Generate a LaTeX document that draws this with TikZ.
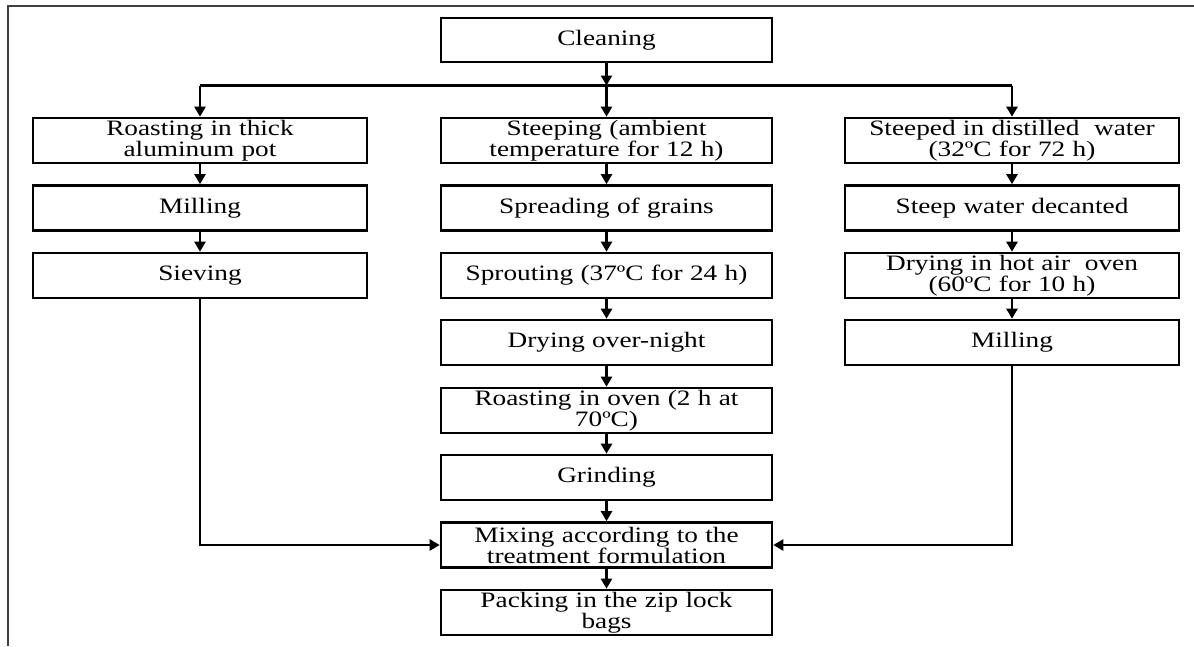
\documentclass[tikz,border=0pt]{standalone}
\usepackage{fontspec}
\setmainfont{Liberation Serif}[FakeStretch=1.24]
\usetikzlibrary{arrows.meta}
\begin{document}
\begin{tikzpicture}[x=1pt,y=-1pt,
  stepbox/.style={draw=black, line width=2.6pt, inner sep=0pt, align=center,
    minimum height=45pt, font=\fontsize{22}{21}\selectfont},
  lbox/.style={stepbox, minimum width=334pt, text width=330pt},
  mbox/.style={stepbox, minimum width=331pt, text width=327pt},
  rbox/.style={stepbox, minimum width=334pt, text width=330pt},
  conn/.style={draw=black, line width=2.3pt, -{Triangle[width=11pt,length=10pt]}},
  plain/.style={draw=black, line width=2.3pt}]
\useasboundingbox (0,0) rectangle (1194,646);
\draw[line width=2pt, draw=black!75] (8,646) -- (8,6) -- (1194,6);

% middle column
\node[mbox, minimum height=44pt] (clean) at (606.5,40) {Cleaning};
\node[mbox] (m1) at (606.5,140.5) {Steeping (ambient\\temperature for 12 h)};
\node[mbox] (m2) at (606.5,208) {Spreading of grains};
\node[mbox] (m3) at (606.5,275.5) {Sprouting (37ºC for 24 h)};
\node[mbox] (m4) at (606.5,342.5) {Drying over-night};
\node[mbox] (m5) at (606.5,410.5) {Roasting in oven (2 h at\\70ºC)};
\node[mbox] (m6) at (606.5,477.5) {Grinding};
\node[mbox] (m7) at (606.5,545) {Mixing according to the\\treatment formulation};
\node[mbox] (m8) at (606.5,612.5) {Packing in the zip lock\\bags};

% left column
\node[lbox] (l1) at (200,140.5) {Roasting in thick\\aluminum pot};
\node[lbox] (l2) at (200,208) {Milling};
\node[lbox] (l3) at (200,275.5) {Sieving};

% right column
\node[rbox] (r1) at (1012,140.5) {Steeped in distilled\ \ water\\(32ºC for 72 h)};
\node[rbox] (r2) at (1012,208) {Steep water decanted};
\node[rbox] (r3) at (1012,275.5) {Drying in hot air\ \ oven\\(60ºC for 10 h)};
\node[rbox] (r4) at (1012,342.5) {Milling};

% branching
\coordinate (split) at (606.5,85.5);
\coordinate (splitL) at (200,85.5);
\coordinate (splitR) at (1012,85.5);
\draw[conn] (clean.south) -- (split);
\draw[plain] (splitL) -- (splitR);
\draw[conn] (splitL) -- (l1.north);
\draw[conn] (split) -- (m1.north);
\draw[conn] (splitR) -- (r1.north);

% vertical chains
\draw[conn] (l1) -- (l2);
\draw[conn] (l2) -- (l3);
\draw[conn] (m1) -- (m2);
\draw[conn] (m2) -- (m3);
\draw[conn] (m3) -- (m4);
\draw[conn] (m4) -- (m5);
\draw[conn] (m5) -- (m6);
\draw[conn] (m6) -- (m7);
\draw[conn] (m7) -- (m8);
\draw[conn] (r1) -- (r2);
\draw[conn] (r2) -- (r3);
\draw[conn] (r3) -- (r4);

% side joins
\draw[conn] (l3.south) |- (m7.west);
\draw[conn] (r4.south) |- (m7.east);
\end{tikzpicture}
\end{document}
